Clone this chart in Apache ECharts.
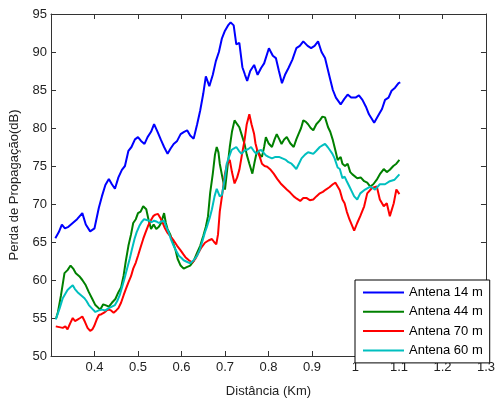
<!DOCTYPE html>
<html><head><meta charset="utf-8">
<script src="https://cdn.jsdelivr.net/npm/echarts@6/dist/echarts.min.js"></script>
<style>html,body{margin:0;padding:0;background:#fff}#c{width:498px;height:403px}</style>
</head><body><div id="c"></div>
<script>
const xTicks = [0.3,0.4,0.5,0.6,0.7,0.8,0.9,1.0,1.1,1.2,1.3];
const seriesNames = ['Antena 14 m','Antena 44 m','Antena 70 m','Antena 60 m'];
const seriesColors = ['#0000FF','#008000','#FF0000','#00BFBF'];

const a14X = [0.31,0.318,0.325,0.332,0.34,0.35,0.36,0.372,0.38,0.39,0.40,0.41,0.417,0.425,0.433,0.44,0.447,0.455,0.463,0.47,0.478,0.485,0.493,0.50,0.507,0.515,0.522,0.53,0.537,0.545,0.553,0.56,0.568,0.575,0.582,0.59,0.598,0.606,0.613,0.62,0.628,0.636,0.643,0.65,0.656,0.664,0.672,0.679,0.686,0.693,0.70,0.707,0.713,0.72,0.726,0.733,0.74,0.746,0.751,0.758,0.767,0.775,0.783,0.79,0.801,0.81,0.817,0.824,0.831,0.838,0.846,0.855,0.864,0.872,0.880,0.89,0.898,0.906,0.914,0.922,0.930,0.941,0.948,0.955,0.966,0.974,0.982,0.99,1.0,1.008,1.016,1.024,1.031,1.043,1.054,1.061,1.068,1.076,1.083,1.091,1.099,1.103];
const a14Y = [65.5,66.3,67.3,66.8,67.0,67.5,68.0,68.8,67.3,66.4,66.8,69.5,71.0,72.5,73.3,72.6,72.0,73.5,74.5,75.0,77.0,77.5,78.5,78.8,78.3,77.9,78.8,79.5,80.5,79.5,78.4,77.5,76.6,77.3,77.9,78.3,79.2,79.5,79.7,79.0,78.6,80.5,82.3,84.5,86.8,85.5,87.0,88.8,90.0,91.8,92.8,93.5,93.9,93.5,91.0,91.2,88.0,87.0,86.2,87.5,88.3,87.0,87.9,88.5,90.5,89.5,89.2,87.5,85.9,87.0,87.9,89.0,90.5,90.8,91.4,90.8,90.5,90.8,91.4,90.0,89.2,86.6,85.0,84.0,83.1,83.8,84.4,84.0,84.0,84.3,83.7,82.8,81.8,80.7,81.8,82.5,83.7,84.0,84.9,85.3,85.9,86.0];

const a44X = [0.312,0.316,0.323,0.331,0.338,0.345,0.351,0.357,0.365,0.372,0.38,0.387,0.395,0.402,0.413,0.42,0.425,0.433,0.44,0.448,0.455,0.461,0.467,0.472,0.478,0.484,0.489,0.495,0.50,0.506,0.512,0.519,0.524,0.53,0.536,0.542,0.548,0.553,0.56,0.564,0.568,0.574,0.58,0.586,0.591,0.598,0.605,0.612,0.62,0.628,0.636,0.643,0.65,0.656,0.661,0.666,0.672,0.677,0.681,0.685,0.688,0.694,0.70,0.705,0.711,0.716,0.722,0.728,0.733,0.739,0.745,0.75,0.756,0.763,0.768,0.774,0.78,0.785,0.79,0.794,0.8,0.808,0.814,0.819,0.825,0.83,0.836,0.842,0.85,0.858,0.864,0.869,0.875,0.88,0.886,0.891,0.897,0.903,0.91,0.918,0.924,0.93,0.937,0.942,0.948,0.954,0.959,0.966,0.97,0.976,0.982,0.988,0.993,1.004,1.012,1.02,1.027,1.034,1.041,1.049,1.057,1.065,1.072,1.079,1.087,1.094,1.101];
const a44Y = [55.0,55.8,58.0,60.9,61.3,61.9,61.5,60.9,60.5,60.0,59.3,58.4,57.5,56.7,56.1,56.8,56.7,56.5,57.0,57.5,58.4,59.0,60.6,62.5,64.5,66.0,67.5,68.0,68.8,69.0,69.7,69.3,68.0,66.7,67.3,66.7,67.0,67.5,68.8,67.5,66.7,66.0,65.0,64.0,62.8,61.9,61.5,61.7,61.9,62.5,63.6,64.5,65.8,67.0,68.4,71.5,74.0,76.5,77.5,76.8,75.3,73.5,71.9,74.5,77.5,79.5,81.0,80.5,80.1,79.0,77.9,76.5,75.3,74.0,75.5,77.1,76.5,76.2,77.5,78.8,78.0,77.5,78.5,79.2,78.5,77.9,78.5,78.8,78.0,77.5,78.5,79.2,80.0,81.0,80.8,80.5,80.0,79.7,80.5,81.0,81.5,81.4,80.1,79.5,78.4,77.0,75.8,76.2,75.3,75.0,75.3,74.2,73.9,73.4,73.5,73.0,72.8,72.3,72.6,73.2,74.0,74.6,74.2,74.5,75.0,75.3,75.8];

const a70X = [0.311,0.319,0.327,0.333,0.338,0.344,0.35,0.355,0.361,0.367,0.372,0.378,0.384,0.39,0.395,0.399,0.405,0.41,0.416,0.422,0.428,0.433,0.438,0.444,0.45,0.455,0.461,0.467,0.472,0.478,0.484,0.489,0.495,0.50,0.506,0.512,0.517,0.523,0.529,0.535,0.54,0.546,0.551,0.557,0.562,0.568,0.575,0.582,0.59,0.598,0.604,0.609,0.617,0.625,0.632,0.639,0.646,0.654,0.662,0.67,0.675,0.68,0.684,0.688,0.693,0.70,0.705,0.711,0.716,0.722,0.728,0.733,0.739,0.745,0.75,0.756,0.761,0.767,0.77,0.774,0.78,0.785,0.791,0.797,0.805,0.812,0.82,0.828,0.835,0.842,0.85,0.858,0.865,0.873,0.88,0.887,0.895,0.903,0.91,0.918,0.925,0.932,0.94,0.948,0.954,0.959,0.964,0.97,0.975,0.98,0.986,0.992,0.997,1.004,1.011,1.02,1.027,1.038,1.049,1.056,1.065,1.072,1.079,1.088,1.094,1.101];
const a70Y = [53.9,53.8,53.7,53.9,53.5,54.3,55.0,54.6,54.8,55.0,55.2,54.5,53.7,53.3,53.5,53.9,54.8,55.4,55.5,55.7,56.0,56.1,56.0,55.7,56.0,56.3,57.0,58.0,58.8,59.7,60.5,61.5,62.3,63.2,64.3,65.4,66.2,67.1,67.8,68.4,68.6,68.7,68.2,67.5,66.8,66.2,65.7,65.2,64.5,63.9,63.4,63.0,62.6,62.3,62.8,63.6,64.3,64.9,65.2,65.4,65.0,64.7,66.0,69.0,71.0,74.0,75.3,75.8,74.2,72.7,73.5,74.5,76.5,78.4,80.5,81.8,80.5,79.2,78.0,77.1,76.2,75.3,75.0,74.9,74.5,74.0,73.3,72.7,72.3,71.9,71.5,71.0,70.7,70.4,70.8,70.8,70.5,70.6,71.0,71.4,71.6,71.9,72.2,72.6,72.8,72.3,71.8,70.6,70.1,69.0,68.0,67.2,66.5,67.5,68.4,69.7,71.4,72.1,72.3,70.6,69.7,70.1,68.4,70.1,71.9,71.3];

const a60X = [0.311,0.32,0.327,0.333,0.338,0.344,0.35,0.355,0.361,0.369,0.377,0.382,0.387,0.395,0.402,0.41,0.417,0.425,0.433,0.44,0.447,0.452,0.458,0.463,0.469,0.475,0.481,0.486,0.492,0.497,0.503,0.508,0.514,0.52,0.526,0.531,0.537,0.542,0.548,0.554,0.56,0.565,0.571,0.576,0.582,0.588,0.594,0.6,0.605,0.612,0.62,0.628,0.636,0.642,0.647,0.654,0.659,0.665,0.67,0.676,0.681,0.688,0.693,0.70,0.704,0.71,0.715,0.72,0.726,0.732,0.738,0.744,0.749,0.755,0.76,0.766,0.772,0.778,0.783,0.788,0.794,0.8,0.808,0.816,0.824,0.832,0.84,0.846,0.853,0.858,0.864,0.87,0.876,0.884,0.891,0.897,0.903,0.91,0.918,0.924,0.93,0.936,0.941,0.947,0.952,0.959,0.964,0.97,0.975,0.98,0.986,0.992,0.997,1.004,1.011,1.022,1.034,1.045,1.056,1.068,1.079,1.09,1.101];
const a60Y = [54.8,56.3,57.6,58.2,58.7,59.0,59.3,58.8,58.4,58.0,57.6,57.2,56.7,56.2,55.8,56.0,56.1,56.0,56.3,56.5,56.7,57.2,58.0,59.0,60.2,61.5,62.8,64.0,65.4,66.3,67.1,67.6,68.0,67.9,67.8,67.6,67.8,67.7,67.5,67.7,67.8,67.0,66.2,65.3,64.5,63.8,63.2,62.9,62.6,62.4,62.2,62.6,63.2,64.0,64.9,66.3,67.1,68.2,69.3,71.0,72.0,71.0,71.2,73.5,75.3,76.3,77.1,77.3,77.5,77.0,76.6,77.0,77.1,77.3,77.5,77.0,76.6,77.0,77.1,76.8,76.4,76.2,76.0,76.2,76.2,76.0,75.8,75.5,75.3,75.0,74.6,75.3,76.0,76.5,76.8,76.7,76.6,77.0,77.5,77.7,77.9,77.5,77.1,76.6,76.0,74.8,74.6,73.4,73.6,73.0,72.3,71.6,71.0,70.6,71.4,71.9,72.3,71.9,72.6,72.6,73.0,73.2,73.9];

const xs = [a14X, a44X, a70X, a60X];
const ys = [a14Y, a44Y, a70Y, a60Y];

const FONT = 'Liberation Sans, Arial, sans-serif';
const TXT = '#222';
const chart = echarts.init(document.getElementById('c'), null, {renderer:'canvas'});
const fmt = v => (Math.abs(v - 0.3) < 1e-6) ? '' : String(+v.toFixed(1));
chart.setOption({
  animation: false,
  backgroundColor: '#fff',
  grid: {left: 48, right: 8, top: 14, bottom: 41, show: false},
  legend: {
    orient: 'vertical', left: 355, top: 280,
    data: seriesNames.map((n, i) => ({name: n, icon: 'rect', itemStyle: {color: seriesColors[i]}})),
    itemWidth: 41, itemHeight: 2, itemGap: 4.3,
    padding: [5, 7, 5, 8],
    borderColor: '#000', borderWidth: 1, backgroundColor: '#fff', borderRadius: 0,
    textStyle: {fontFamily: FONT, fontSize: 13, color: '#000', lineHeight: 15}
  },
  xAxis: [{
    type: 'value', min: 0.3, max: 1.3, interval: 0.1,
    name: 'Distância (Km)', nameLocation: 'middle', nameGap: 29,
    nameTextStyle: {fontFamily: FONT, fontSize: 13, color: TXT},
    axisLine: {lineStyle: {color: '#333', width: 1}},
    axisTick: {inside: true, length: 5, lineStyle: {color: '#333'}},
    axisLabel: {formatter: fmt, fontFamily: FONT, fontSize: 13, color: TXT, margin: 5},
    splitLine: {show: false}
  }, {
    type: 'value', position: 'top', min: 0.3, max: 1.3, interval: 0.1,
    axisLine: {lineStyle: {color: '#333', width: 1}},
    axisTick: {inside: true, length: 5, lineStyle: {color: '#333'}},
    axisLabel: {show: false}, splitLine: {show: false}
  }],
  yAxis: [{
    type: 'value', min: 50, max: 95, interval: 5,
    name: 'Perda de Propagação(dB)', nameLocation: 'middle', nameGap: 30, nameRotate: 90,
    nameTextStyle: {fontFamily: FONT, fontSize: 13, color: TXT},
    axisLine: {show: true, lineStyle: {color: '#333', width: 1}},
    axisTick: {show: true, inside: true, length: 5, lineStyle: {color: '#333'}},
    axisLabel: {fontFamily: FONT, fontSize: 13, color: TXT, margin: 4},
    splitLine: {show: false}
  }, {
    type: 'value', position: 'right', min: 50, max: 95, interval: 5,
    axisLine: {show: true, lineStyle: {color: '#333', width: 1}},
    axisTick: {show: true, inside: true, length: 5, lineStyle: {color: '#333'}},
    axisLabel: {show: false}, splitLine: {show: false}
  }],
  series: seriesNames.map((n, i) => ({
    name: n, type: 'line', xAxisIndex: 0, yAxisIndex: 0,
    data: xs[i].map((x, k) => [x, ys[i][k]]),
    showSymbol: false, symbol: 'none',
    lineStyle: {color: seriesColors[i], width: 2},
    itemStyle: {color: seriesColors[i]},
    z: 2 + i
  }))
});
</script></body></html>
